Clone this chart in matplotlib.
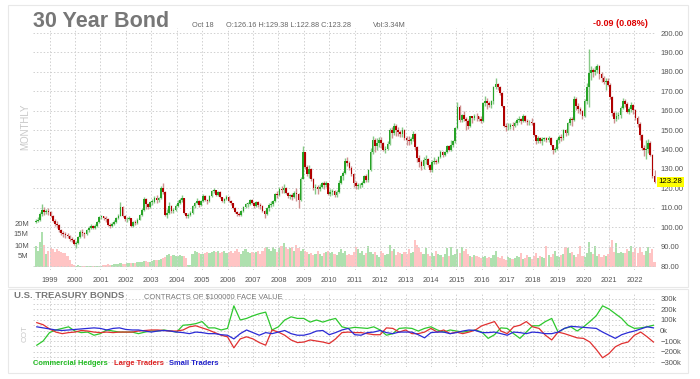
import numpy as np
import pandas as pd
import matplotlib
matplotlib.use("Agg")
import matplotlib.pyplot as plt
import matplotlib.transforms as mtransforms
from matplotlib.patches import Rectangle

plt.rcParams['font.family'] = ['Liberation Sans', 'DejaVu Sans']

W, H = 700, 379

# monthly candles, Jun 1998 .. Oct 2022
first_open = 102.5
close = [
    103, 103.5, 107, 109, 108, 108.5, 108,  # 1998
    106, 103, 101.5, 101, 98.5, 97, 96.5, 96, 95.5, 94, 93.5, 91.5,
    92, 95, 97.5, 97, 96.5, 98.5, 99.5, 100.5, 99.8, 100.5, 102.5, 105,
    105.5, 104.5, 104, 101, 100.7, 101.5, 102.5, 104.5, 106, 110.5, 106, 104,
    104, 104.5, 100.5, 102.5, 102, 103.8, 106.5, 109, 114.5, 112, 110.5, 113,
    113, 115, 114, 115, 120, 118, 106.5, 107.5, 111, 108.5, 109, 111,
    112.5, 114, 115, 107.5, 105.5, 106.5, 107.5, 111, 112.5, 113.5, 111.5, 113.5,
    116, 114, 113.5, 116, 118.5, 119, 116.5, 118, 115.5, 113.5, 114.5, 115.5,
    113.5, 112.5, 110, 108, 107, 106.5, 108.5, 110.5, 112, 112, 114, 112.5,
    111, 113, 111.5, 111, 108.5, 107, 110, 111.5, 112, 113.5, 117, 116.5,
    119.5, 119, 120, 117.5, 116, 116.5, 115.5, 117.5, 117, 114, 125, 138.5,
    131, 127.5, 130, 125, 120, 120.5, 119.5, 120.5, 122.5, 121.5, 122.5, 117,
    118, 118.5, 116.5, 118, 123, 126.5, 128, 134, 133, 130.5, 127.5, 123,
    121, 121.5, 121.5, 123, 126.5, 124.5, 129.5, 138.5, 145, 142, 143.5, 145,
    143.5, 140, 140.5, 143, 150, 148.5, 152, 150, 149, 148, 150, 146,
    145, 144.5, 145.5, 148, 141.5, 135.5, 133.5, 131.5, 134.5, 135, 132, 129.5,
    133.5, 134, 133.5, 136, 138.5, 137, 138.5, 142, 140, 142.5, 144.5, 151,
    162, 155, 158, 155.5, 154.5, 152, 157, 156, 157.5, 157, 155.5, 154.5,
    164, 165, 164, 163, 165, 172, 173.5, 172, 169, 162.5, 152, 151.5,
    151.5, 152.5, 152, 153.5, 155, 155.5, 154.5, 157, 154.5, 154, 154, 153.5,
    147.5, 144.5, 146, 144.5, 145.5, 146, 145, 146, 142.5, 139.5, 140.5, 145,
    146.5, 146, 150, 148.5, 153.5, 155.5, 155, 166, 162.5, 161, 160, 157,
    165, 172, 179.5, 181, 180, 181, 183, 179, 177, 175, 175.5, 173,
    167, 159, 155.5, 157, 158, 161.5, 165, 163.5, 159.5, 161, 163, 160.5,
    156, 153, 147.5, 141, 140, 140.5, 143.5, 137, 126.16, 123.28,
]
high = [
    104, 105, 108, 112, 110.5, 109.5, 110,
    108.5, 106.5, 104, 103, 101.5, 99, 98, 97.5, 97, 96, 95, 94,
    93, 95.5, 98.5, 99, 97.5, 99, 100.5, 101.5, 101, 101.5, 103, 105.5,
    106.5, 106, 105.5, 104.5, 102, 102.5, 103.5, 105, 107, 113, 111, 106.5,
    105, 105.5, 104.5, 103, 103.5, 104.5, 107, 110, 115.5, 115, 112.5, 113.5,
    114.5, 116, 116.5, 115.5, 121, 123, 118.5, 109.5, 113, 111.5, 110, 112,
    114, 115, 116.5, 115, 107.5, 107.5, 108.5, 111.5, 113, 115, 114, 114,
    117, 116.5, 114.5, 116.5, 119, 120, 119, 118.5, 118.5, 115.5, 115, 116.5,
    116, 114, 112.5, 110.5, 108.5, 108, 109, 111, 112.5, 113, 114.5, 114.5,
    113, 113.5, 113.5, 112.5, 111.5, 109, 110.5, 112.5, 113.5, 114, 117.5, 118.5,
    120.5, 121, 122, 120.5, 118, 117, 117.5, 118.5, 120, 117.5, 126, 142,
    138.5, 132, 132, 130.5, 125.5, 122, 121.5, 122, 123.5, 124, 124, 122.5,
    119.5, 119.5, 119, 119, 124.5, 127, 129, 135.5, 136, 134, 131.5, 128,
    124, 122.5, 123, 124, 127, 127.5, 130, 141, 147, 146, 146, 146.5,
    146.5, 144, 142, 144.5, 151, 151.5, 153.5, 153, 151.5, 150, 151.5, 150.5,
    147, 147, 146.5, 149.5, 148.5, 142, 137, 134.5, 136, 137, 135.5, 132.5,
    134.5, 136, 135, 136.5, 139.5, 139, 139, 142.5, 142.5, 145, 145, 151.5,
    164.5, 163, 158.5, 160, 156.5, 155.5, 157.5, 157.5, 158.5, 159, 157.5, 157,
    164.5, 167.5, 166.5, 165, 165.5, 172.5, 177, 174, 172.5, 169.5, 162.5, 153.5,
    153.5, 153.5, 154, 154.5, 156, 157.5, 156, 158.5, 158, 155.5, 155, 156,
    154, 147.5, 147, 146.5, 146.5, 146.5, 146.5, 147, 146.5, 142.5, 141.5, 146,
    147.5, 148, 150.5, 150.5, 154, 156.5, 156.5, 167.5, 167, 164, 162, 160.5,
    166, 174, 192, 183, 182, 183, 184, 183.5, 180, 178, 177, 177,
    174, 167.5, 160, 159.5, 159.5, 162.5, 166.5, 166, 164.5, 162, 164.5, 163.5,
    161, 157.5, 154, 148, 142.5, 145, 145.5, 144.5, 137.5, 129.38,
]
low = [
    102, 102.5, 103, 106, 106.5, 107, 106.5,
    105, 102.5, 100.5, 99.5, 97.5, 96, 95, 94.5, 94.5, 93, 92.5, 91,
    89.5, 91.5, 94.5, 95.5, 94.5, 96, 97.5, 99, 99, 99, 100, 102,
    104, 103.5, 102.5, 100.5, 99.5, 100, 101, 102, 104, 105.5, 105, 103,
    102.5, 103.5, 100, 100, 101, 101.5, 103.5, 106, 108.5, 109.5, 109.5, 110,
    111.5, 112.5, 112.5, 113, 114.5, 117, 105.5, 104.5, 107, 107.5, 107.5, 108.5,
    110.5, 112, 113, 107, 104.5, 104.5, 105.5, 107, 110, 112, 110.5, 111,
    113, 113.5, 112, 113, 115.5, 117.5, 116, 116, 115, 113, 112.5, 114,
    113, 111.5, 109.5, 107.5, 106, 105.5, 106, 108, 110, 110.5, 111.5, 112,
    110, 110.5, 110.5, 109.5, 108, 104.5, 106.5, 108.5, 110.5, 111, 113, 115,
    116, 117.5, 117.5, 117, 115, 114.5, 114, 115, 113.5, 110, 113.5, 125,
    130, 126.5, 125.5, 124, 119, 117, 117, 118.5, 120, 119.5, 120.5, 116.5,
    116, 116.5, 115.5, 115.5, 117.5, 122, 124.5, 127.5, 131.5, 129.5, 126.5, 120.5,
    119.5, 119.5, 120, 120.5, 122.5, 123.5, 123.5, 129, 137.5, 138.5, 139.5, 141.5,
    141, 139, 138, 139.5, 142.5, 146, 147.5, 147, 147, 146.5, 146.5, 145,
    142.5, 142.5, 143, 144.5, 140, 133.5, 131, 129.5, 130, 132.5, 131, 128.5,
    128.5, 132.5, 132.5, 133, 135.5, 136, 136.5, 138, 139, 139, 141.5, 143.5,
    150.5, 154, 154, 154.5, 150, 150.5, 151.5, 153.5, 155, 154.5, 154.5, 153.5,
    154, 162.5, 161, 162, 161.5, 163.5, 171, 170.5, 168, 162, 151.5, 149.5,
    150, 150.5, 150, 151.5, 152.5, 154, 153, 154, 154, 152.5, 152.5, 152.5,
    147, 143, 143.5, 143.5, 142.5, 144.5, 144, 144, 142, 137.5, 138.5, 139.5,
    143.5, 144.5, 145, 147, 147.5, 152.5, 152, 154.5, 160.5, 159, 158.5, 155.5,
    156.5, 163.5, 162, 176, 177.5, 178.5, 179.5, 176.5, 175, 173.5, 170.5, 172.5,
    166, 157.5, 153.5, 154.5, 155.5, 156, 161, 162, 159, 158.5, 159.5, 158.5,
    155, 151.5, 145, 140, 136.5, 135, 138, 136.5, 125.5, 122.88,
]
# volume in millions
volume = [
    9.5, 7.5, 11.5, 16, 10, 6, 7.5,
    8.5, 8, 7, 8, 7.5, 7, 6.5, 6.5, 5, 3, 1.5, 0.8,
    0.5, 0.7, 0.6, 0.4, 0.3, 0.3, 0.4, 0.3, 0.3, 0.4, 0.5, 0.6,
    0.6, 0.8, 1.0, 1.2, 1.0, 1.1, 1.3, 1.2, 1.4, 1.6, 1.5, 1.4,
    1.6, 1.8, 1.7, 1.9, 2.0, 2.2, 2.4, 2.3, 2.6, 2.8, 2.2, 2.5,
    2.8, 3.2, 3.0, 3.4, 3.6, 4.0, 4.5, 5.5, 6.0, 5.0, 5.5, 5.2,
    5.0, 5.6, 5.2, 5.0, 4.0, 0.8, 1.0, 6.0, 7.5, 7.0, 6.5, 6.0,
    6.0, 6.5, 7.0, 6.2, 7.0, 7.5, 6.8, 7.2, 6.5, 7.0, 7.5, 6.5,
    7.0, 7.5, 6.5, 7.2, 8.0, 7.0, 6.0, 7.5, 8.0, 7.0, 6.5, 7.0,
    6.5, 7.0, 7.5, 6.0, 7.5, 8.5, 9.0, 8.0, 7.5, 9.0, 8.0, 7.0,
    8.5, 9.5, 11.0, 9.0, 8.0, 8.5, 9.0, 7.5, 10.0, 8.5, 7.5, 8.0,
    7.5, 7.0, 6.0, 6.5, 5.5, 6.0, 7.5, 6.0, 5.0, 6.5, 7.0, 7.5,
    6.5, 7.0, 6.0, 5.5, 7.0, 8.0, 6.5, 7.5, 5.5, 6.0, 5.5, 7.0,
    9.0, 8.0, 6.5, 7.5, 5.5, 6.5, 9.5, 7.0, 6.0, 7.0, 5.5, 4.5,
    7.5, 6.5, 5.5, 6.0, 10.0, 7.5, 8.0, 5.5, 7.0, 6.5, 6.0, 7.0,
    6.0, 8.0, 6.5, 7.0, 12.5, 10.0, 8.5, 7.0, 6.0, 8.5, 6.0, 5.0,
    6.5, 5.0, 7.5, 6.0, 5.5, 4.5, 6.0, 8.5, 5.0, 9.0, 5.5, 6.0,
    8.0, 6.5, 9.0, 7.5, 8.0, 6.0, 5.0, 4.5, 5.5, 5.0, 4.5, 4.0,
    4.5, 5.0, 4.0, 4.5, 4.0, 5.5, 7.5, 4.5, 4.0, 5.0, 3.5, 3.0,
    4.5, 4.0, 3.5, 4.0, 5.0, 4.5, 6.5, 3.5, 4.0, 5.5, 4.5, 3.5,
    5.0, 6.5, 4.0, 5.0, 4.5, 4.0, 9.5, 5.5, 4.5, 6.0, 7.5, 5.0,
    4.5, 5.5, 6.0, 9.0, 8.5, 6.5, 7.0, 5.5, 4.5, 6.0, 9.5, 5.0,
    4.5, 6.5, 11.5, 7.0, 6.0, 9.5, 5.0, 6.0, 4.5, 5.5, 5.0, 6.0,
    9.0, 12.5, 7.0, 11.0, 6.5, 7.0, 6.5, 6.5, 8.0, 7.5, 9.5, 7.0,
    8.5, 6.5, 9.0, 7.0, 5.5, 7.5, 9.0, 6.5, 8.0, 2.5,
]

# COT net positions (thousands of contracts), quarterly Jul 1998 .. Oct 2022
commercial = [
    -140, -100, -20, 5, 20, 35, -5, -20, -15, -45, -30, 5, -5, -15, -15, -15,
    -30, -15, -5, -5, 5, -5, -15, 50, 55, 65, 85, 25, 25, 5, 20, 235, 100, 115,
    140, 160, 175, 5, 35, 100, 130, 115, 115, 80, 100, 80, 100, 115, 35, 20,
    30, 25, 20, 35, 5, -45, -30, 20, 25, 20, -5, 20, 35, 5, -15, 5, -5, -15,
    -5, 5, -15, -75, -40, 25, 20, -30, -75, -15, 45, 45, 85, 115, -15, 20, 35,
    -5, 35, 85, 140, 235, 205, 160, 115, 50, 20, 25, 35, 50,
]
large = [
    75, 55, 15, -15, -30, -20, -15, 0, -5, -15, -20, -15, -20, -15, -15, -15,
    -5, 0, 5, 5, 0, -5, -5, 5, 35, 45, 25, 5, -20, -45, -60, -165, -80, -60,
    -80, -115, -140, 5, -15, -45, -90, -115, -110, -90, -100, -110, -125, -80,
    -20, -15,
    -20, -20, -30, -40, -40, 25, 20, -15, 5, -30, -30, -15, 20, -15, 5, -30,
    -15, -30, -15, 5, 45, 65, 85, -5, -30, 35, 50, 85, 35, 20, -45, -90, -15,
    -30, -50, -70, -75, -110, -180, -260, -220, -155, -125, -110, -45, -15,
    -60, -110,
]
small = [
    35, 25, 15, 5, 0, 5, 10, 15, 20, 25, 20, 5, 20, 25, 10, 5, 5, -5, -15, -5,
    0, -5, -15, -20, -30, -15, -20, -30, -30, -40, -45, -80, -30, 5, -20, -45,
    -20, -30, -15, 0, -30, -45, -45, -30, -5, 0, -40, -20, 5, 20,
    -40, -45, -20, -15, 0, -20, -30, -15, -15, -15, -40, -70, -20, -15, -15,
    -30, -20, -5, 5, 0, -20, -20, -15, -30, -45, -15, -20, -30, -15, -20, -30,
    -30, -15, 20, 40, 35, 30, 25, 20, -15, -45, -75, -40, -20, -5, 15, 35, 25,
]

years = list(range(1999, 2023))
price_ticks = list(range(80, 201, 10))
vol_ticks = [5, 10, 15, 20]
cot_ticks = [300, 200, 100, 0, -100, -200, -300]


def fx(x):
    return x / W


def fy(y):
    return 1 - y / H


def decimal_year(d, mid=0.0):
    return d.year + (d.month - 1 + mid) / 12.0


months = pd.date_range('1998-06-01', periods=len(close), freq='MS')
t = np.array([decimal_year(d, 0.5) for d in months])
c = np.array(close, dtype=float)
o = np.concatenate([[first_open], c[:-1]])
hi = np.maximum(np.array(high, dtype=float), np.maximum(o, c))
lo = np.minimum(np.array(low, dtype=float), np.minimum(o, c))
up = c >= o

qdates = pd.date_range('1998-07-01', periods=len(commercial), freq='QS')
tq = np.array([decimal_year(d) for d in qdates])

x0, x1 = 1998.351, 2022.85
grid_kw = dict(color='#d0d0d0', linestyle=(0, (1.5, 2.0)), linewidth=0.7)
lab_col = '#555555'

fig = plt.figure(figsize=(W / 100, H / 100), dpi=100)
fig.patch.set_facecolor('white')

# panel frames
fig.patches.append(Rectangle((fx(8), fy(287)), fx(680), 282 / H, transform=fig.transFigure,
                             fill=False, edgecolor='#e8e8e8', linewidth=0.8))
fig.patches.append(Rectangle((fx(8), fy(373)), fx(680), 84 / H, transform=fig.transFigure,
                             fill=False, edgecolor='#e8e8e8', linewidth=0.8))

rect = [fx(33), fy(270), fx(656 - 33), (270 - 28) / H]

# volume (behind)
axv = fig.add_axes(rect)
vol_col = np.where(up, '#aee0ae', '#ffc4c4')
axv.bar(t, volume, width=0.083, color=vol_col, linewidth=0)
axv.set_xlim(x0, x1)
axv.set_ylim(-3 / 2.2, 239 / 2.2)
axv.set_yticks(vol_ticks)
axv.set_yticklabels([f'{v}M' for v in vol_ticks])
axv.tick_params(axis='y', length=0, pad=3, labelsize=5.5, labelcolor=lab_col)
axv.set_xticks([])
for s in axv.spines.values():
    s.set_visible(False)

# price candles
ax = fig.add_axes(rect, facecolor='none')
ax.set_xlim(x0, x1)
ax.set_ylim(77.94, 202.58)
for yv in price_ticks:
    ax.axhline(yv, zorder=0, **grid_kw)
for yr in years:
    ax.axvline(yr, zorder=0, **grid_kw)
wick_col = np.where(up, '#86c986', '#cf9090')
body_col = np.where(up, '#27a327', '#b00000')
ax.vlines(t, lo, hi, colors=wick_col, linewidth=1.0, zorder=2)
body_h = np.maximum(np.abs(c - o), 0.3)
ax.bar(t, body_h, bottom=np.minimum(o, c), width=0.065, color=body_col, linewidth=0, zorder=3)

ax.yaxis.tick_right()
ax.set_yticks(price_ticks)
ax.set_yticklabels([f'{v:.2f}' for v in price_ticks])
ax.set_xticks(years)
ax.set_xticklabels([str(y) for y in years])
ax.tick_params(axis='y', length=0, pad=3, labelsize=5.5, labelcolor=lab_col)
ax.tick_params(axis='x', length=0, pad=5, labelsize=5.3, labelcolor=lab_col)
for s in ax.spines.values():
    s.set_visible(False)

blend = mtransforms.blended_transform_factory(ax.transAxes, ax.transData)
ax.text(1.004, c[-1], f'{c[-1]:.2f}', transform=blend, ha='left', va='center',
        fontsize=5.6, color='black', clip_on=False, zorder=10,
        bbox=dict(boxstyle='square,pad=0.15', facecolor='#ffff00', edgecolor='none'))

# COT panel
axc = fig.add_axes([fx(33), fy(367), fx(656 - 33), (367 - 294) / H])
axc.set_xlim(x0, x1)
axc.set_ylim(-347.6, 347.6)
for yv in range(-300, 301, 50):
    axc.axhline(yv, zorder=0, **grid_kw)
for yr in years:
    axc.axvline(yr, zorder=0, **grid_kw)
axc.plot(tq, commercial, color='#2ec82e', linewidth=0.9, zorder=3)
axc.plot(tq, large, color='#e03030', linewidth=0.9, zorder=3)
axc.plot(tq, small, color='#2b2bd6', linewidth=0.9, zorder=3)
axc.yaxis.tick_right()
axc.set_yticks(cot_ticks)
axc.set_yticklabels([f'{v}k'.replace('-', '\u2212') for v in cot_ticks])
axc.set_xticks([])
axc.tick_params(axis='y', length=0, pad=3, labelsize=5.5, labelcolor=lab_col)
for s in axc.spines.values():
    s.set_visible(False)

# header texts
fig.text(fx(33), fy(27), '30 Year Bond', fontsize=15.5, fontweight='bold', color='#777777',
         va='baseline', ha='left')
fig.text(fx(192), fy(27), 'Oct 18', fontsize=5.3, color='#666666', va='baseline')
fig.text(fx(226), fy(27), 'O:126.16 H:129.38 L:122.88 C:123.28', fontsize=5.3,
         color='#666666', va='baseline')
fig.text(fx(373), fy(27), 'Vol:3.34M', fontsize=5.3, color='#666666', va='baseline')
fig.text(fx(647.5), fy(26.5), '-0.09 (0.08%)', fontsize=6.5, fontweight='bold',
         color='#dd0000', va='baseline', ha='right')
fig.text(fx(25), fy(127), 'MONTHLY', fontsize=7, color='#c8c8c8', rotation=90,
         ha='center', va='center')

fig.text(fx(14), fy(298.5), 'U.S. TREASURY BONDS', fontsize=6.8, fontweight='bold',
         color='#777777', va='baseline')
fig.text(fx(144), fy(298.5), 'CONTRACTS OF $100000 FACE VALUE', fontsize=5.4,
         color='#777777', va='baseline')
fig.text(fx(25), fy(333), 'COT', fontsize=5.8, color='#c8c8c8', rotation=90,
         ha='center', va='center')
fig.text(fx(33.3), fy(365), 'Commercial Hedgers', fontsize=5.4, fontweight='bold',
         color='#22bb22', va='baseline')
fig.text(fx(114), fy(365), 'Large Traders', fontsize=5.4, fontweight='bold',
         color='#dd2222', va='baseline')
fig.text(fx(169.3), fy(365), 'Small Traders', fontsize=5.4, fontweight='bold',
         color='#2222cc', va='baseline')

fig.savefig('out.png', dpi=100)
